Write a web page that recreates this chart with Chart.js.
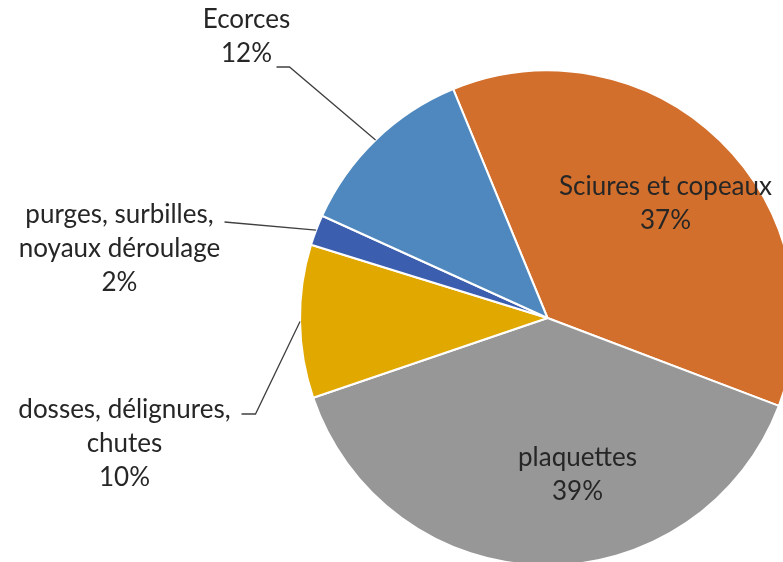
<!DOCTYPE html>
<html>
<head>
<meta charset="utf-8">
<script src="https://cdn.jsdelivr.net/npm/chart.js@4.4.0/dist/chart.umd.min.js"></script>
<style>
  html, body { margin: 0; padding: 0; background: #fff; overflow: hidden; }
  #wrap { position: absolute; left: 0; top: 0; width: 820px; height: 600px; }
</style>
</head>
<body>
<div id="wrap"><canvas id="myChart"></canvas></div>
<script>
'use strict';

// data
let categories = ['Sciures et copeaux', 'plaquettes', 'dosses, délignures, chutes', 'purges, surbilles, noyaux déroulage', 'Ecorces'];
let shares = [37, 39, 10, 2, 12];
let sliceColors = ['#D36F2C', '#979797', '#E1A900', '#3B5FAE', '#4E88BE'];

// how each label is written (lines) and where it sits, relative to the pie centre
let labelLines = [
    ['Sciures et copeaux'],
    ['plaquettes'],
    ['dosses, délignures,', 'chutes'],
    ['purges, surbilles,', 'noyaux déroulage'],
    ['Ecorces']
];
let labelPos = [
    { x: 118, y: -131 },
    { x: 30, y: 140 },
    { x: -423, y: 92 },
    { x: -428, y: -103 },
    { x: -301, y: -298 }
];
// leader line: elbow then end, relative to centre (null = label inside)
let leaders = [
    null,
    null,
    [{ x: -292, y: 96 }, { x: -306, y: 96 }],
    [{ x: -323, y: -96 }, { x: -323, y: -96 }],
    [{ x: -258, y: -251 }, { x: -271, y: -251 }]
];

let labelFont = '26px Lato';
let lineGap = 34;

let labelPlugin = {
    id: 'sliceLabels',
    afterDatasetsDraw(chart) {
        let ctx = chart.ctx;
        let arcs = chart.getDatasetMeta(0).data;
        let total = shares.reduce((a, b) => a + b, 0);
        ctx.save();
        for (let i = 0; i < arcs.length; i++) {
            let arc = arcs[i];
            let cx = arc.x;
            let cy = arc.y;
            let mid = (arc.startAngle + arc.endAngle) / 2;
            if (leaders[i]) {
                ctx.strokeStyle = '#404040';
                ctx.lineWidth = 1.3;
                ctx.beginPath();
                ctx.moveTo(cx + Math.cos(mid) * arc.outerRadius, cy + Math.sin(mid) * arc.outerRadius);
                ctx.lineTo(cx + leaders[i][0].x, cy + leaders[i][0].y);
                ctx.lineTo(cx + leaders[i][1].x, cy + leaders[i][1].y);
                ctx.stroke();
            }
            let lines = labelLines[i].concat([Math.round(shares[i] / total * 100) + '%']);
            ctx.fillStyle = '#262626';
            ctx.font = labelFont;
            ctx.textAlign = 'center';
            ctx.textBaseline = 'middle';
            for (let k = 0; k < lines.length; k++) {
                ctx.fillText(lines[k], cx + labelPos[i].x, cy + labelPos[i].y + k * lineGap);
            }
        }
        ctx.restore();
    }
};

let ctx = document.getElementById('myChart').getContext('2d');
let myChart = new Chart(ctx, {
    type: 'pie',
    data: {
        labels: categories,
        datasets: [{
            data: shares,
            backgroundColor: sliceColors,
            borderColor: '#ffffff',
            borderWidth: 2
        }]
    },
    options: {
        responsive: true,
        maintainAspectRatio: false,
        animation: false,
        rotation: -22.4,
        layout: {
            padding: { left: 299, top: 69, right: 820 - 796, bottom: 600 - 567 }
        },
        plugins: {
            legend: { display: false },
            tooltip: { enabled: false }
        }
    },
    plugins: [labelPlugin]
});
</script>
</body>
</html>
